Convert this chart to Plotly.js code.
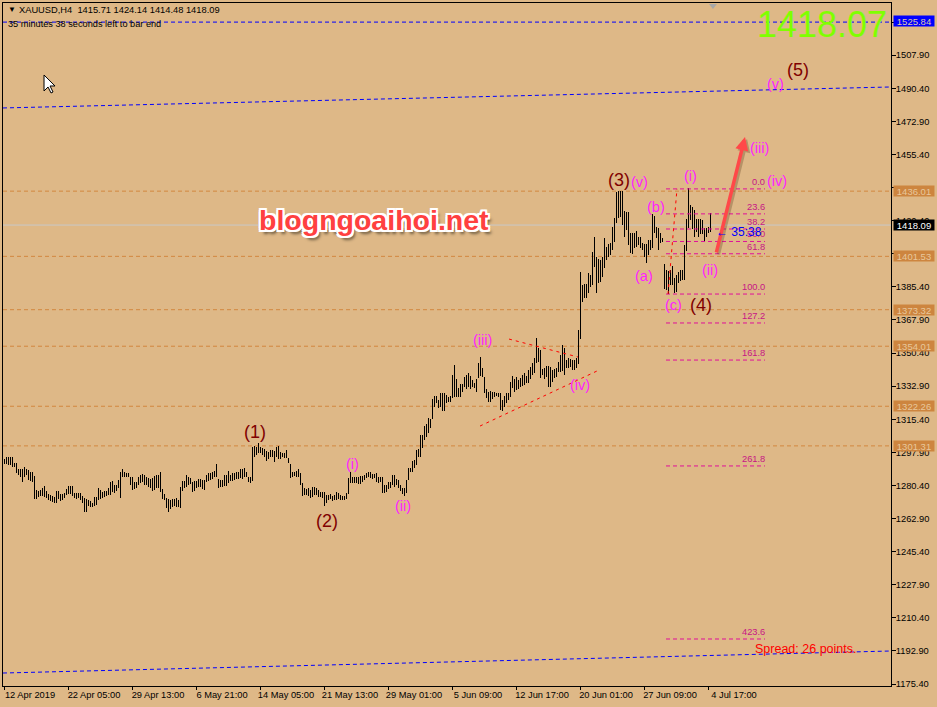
<!DOCTYPE html>
<html>
<head>
<meta charset="utf-8">
<script src="https://cdn.plot.ly/plotly-3.0.1.min.js"></script>
<style>html,body{margin:0;padding:0;background:#DEB887;overflow:hidden}#chart{width:937px;height:707px}</style>
</head>
<body>
<div id="chart"></div>
<script>
const highs = [
1294.2,1295.3,1295.6,1295.6,1295.6,1292.4,1292.4,1289.3,1288.9,1288.9,1290.3,1288.9,1288.6,1287.7,1287.7,1285.4,1278.0,1277.6,1278.0,1278.9,
1280.1,1277.6,1275.9,1275.3,1274.8,1274.1,1277.6,1277.6,1275.9,1275.9,1276.6,1278.3,1280.1,1280.1,1280.1,1276.6,1276.6,1276.2,1276.6,1274.8,
1273.6,1273.0,1272.7,1272.3,1271.3,1274.1,1274.1,1278.9,1278.0,1277.1,1277.6,1277.6,1278.9,1282.4,1282.7,1280.6,1280.6,1283.3,1287.7,1288.9,
1287.7,1287.1,1287.1,1285.0,1284.7,1282.4,1282.4,1284.7,1285.9,1286.4,1285.9,1284.7,1284.1,1283.6,1284.1,1285.4,1285.9,1285.9,1287.7,1278.3,
1275.9,1273.6,1273.0,1272.7,1273.0,1273.0,1273.6,1272.7,1279.7,1282.9,1282.9,1285.9,1284.7,1284.1,1282.4,1282.9,1282.9,1283.6,1283.6,1283.3,
1283.3,1285.9,1286.8,1286.8,1287.7,1288.2,1291.7,1283.6,1283.3,1283.3,1285.9,1285.9,1288.2,1285.9,1286.8,1286.8,1287.7,1287.7,1288.9,1288.9,
1289.4,1287.7,1284.7,1284.7,1300.9,1301.2,1300.9,1303.0,1300.5,1300.0,1299.5,1298.8,1298.3,1299.1,1299.1,1298.8,1300.5,1301.2,1298.3,1297.4,
1297.4,1299.1,1294.7,1291.7,1287.7,1287.7,1288.2,1288.9,1286.8,1281.5,1278.9,1278.3,1278.9,1278.0,1279.4,1279.7,1279.2,1278.0,1277.1,1277.1,
1277.1,1275.3,1275.3,1275.9,1274.8,1275.3,1277.1,1276.6,1275.3,1274.8,1274.8,1276.6,1284.1,1287.7,1285.0,1285.0,1284.7,1285.0,1285.4,1285.4,
1285.9,1287.1,1287.7,1287.7,1286.4,1286.4,1286.8,1285.0,1284.7,1284.7,1280.6,1280.6,1282.4,1282.4,1285.9,1285.9,1283.6,1283.3,1280.6,1278.9,
1278.9,1283.3,1289.4,1289.4,1293.5,1293.8,1299.1,1299.6,1307.0,1307.0,1311.8,1312.9,1315.9,1315.3,1325.9,1327.7,1327.7,1325.6,1329.4,1329.4,
1329.4,1328.2,1327.3,1327.7,1338.8,1344.1,1336.5,1331.7,1334.0,1334.0,1337.9,1338.8,1339.7,1338.2,1336.1,1334.4,1336.5,1345.3,1348.5,1342.3,
1337.9,1331.2,1330.0,1330.5,1330.0,1330.0,1329.4,1329.4,1329.5,1325.6,1327.7,1329.1,1329.1,1335.3,1338.3,1336.5,1337.6,1336.2,1337.0,1338.8,
1339.7,1338.3,1341.4,1343.2,1345.3,1347.6,1358.2,1352.9,1352.0,1341.8,1342.3,1343.6,1343.6,1343.2,1341.4,1341.8,1342.3,1345.9,1349.4,1354.7,
1352.9,1346.7,1347.6,1347.1,1346.7,1346.7,1347.6,1362.6,1393.4,1386.4,1386.9,1386.9,1392.5,1391.7,1404.0,1411.9,1401.4,1399.9,1399.6,1401.0,
1411.0,1406.3,1408.1,1408.8,1416.9,1421.6,1435.7,1436.3,1436.3,1436.3,1425.7,1425.2,1425.2,1414.1,1414.1,1413.7,1415.1,1411.6,1411.6,1408.8,
1408.1,1408.1,1410.2,1410.2,1423.9,1422.9,1417.2,1416.3,1413.7,1411.1,1397.5,1394.4,1394.0,1394.4,1396.5,1389.9,1391.7,1393.5,1394.4,1394.4,
1407.6,1421.2,1437.5,1428.7,1427.5,1426.1,1421.2,1421.2,1421.2,1420.8,1416.4,1416.4,1417.3,1424.3];
const lows = [
1291.7,1291.7,1291.2,1291.2,1290.3,1290.0,1286.8,1285.9,1284.7,1282.4,1284.7,1285.9,1283.3,1282.9,1282.4,1273.0,1273.0,1274.5,1274.8,1274.8,
1274.1,1273.6,1272.7,1272.3,1271.8,1271.3,1271.3,1273.0,1272.3,1272.7,1273.6,1275.3,1275.9,1275.9,1274.8,1273.6,1273.0,1273.6,1272.7,1271.3,
1266.5,1266.5,1269.5,1269.2,1268.8,1269.5,1270.0,1272.7,1273.0,1273.6,1274.1,1274.8,1275.3,1275.3,1277.1,1276.6,1277.6,1278.9,1273.6,1285.0,
1284.7,1285.0,1284.7,1280.6,1278.0,1278.3,1278.9,1280.6,1281.5,1282.4,1280.6,1280.6,1279.7,1278.9,1277.6,1278.0,1278.9,1278.9,1277.1,1273.0,
1272.7,1268.3,1266.5,1267.8,1268.8,1269.5,1268.8,1268.8,1268.3,1277.6,1278.9,1279.7,1280.6,1281.2,1277.1,1277.6,1278.9,1279.7,1279.4,1278.3,
1278.0,1282.4,1282.9,1283.3,1283.6,1284.7,1285.0,1278.9,1279.7,1279.7,1280.1,1280.1,1281.9,1282.9,1282.9,1283.3,1283.6,1283.6,1284.1,1283.6,
1284.7,1284.7,1282.4,1281.5,1282.9,1295.6,1296.5,1297.4,1297.4,1296.5,1295.6,1293.5,1294.2,1295.3,1295.3,1293.0,1295.6,1294.2,1294.2,1295.3,
1294.7,1294.7,1292.1,1284.1,1284.7,1285.4,1285.0,1285.0,1280.6,1274.8,1275.3,1275.3,1274.8,1273.6,1274.5,1275.3,1275.3,1274.1,1274.5,1273.6,
1269.5,1270.9,1272.7,1273.0,1272.3,1272.7,1272.7,1273.0,1272.7,1272.7,1272.7,1273.0,1275.9,1281.9,1281.9,1281.5,1281.5,1281.2,1281.2,1282.4,
1283.3,1284.1,1285.0,1284.1,1283.6,1284.1,1282.4,1281.9,1282.4,1276.6,1276.2,1277.1,1278.3,1278.9,1280.6,1279.7,1280.6,1278.9,1277.6,1275.9,
1274.8,1276.6,1283.2,1287.6,1287.6,1289.4,1291.2,1295.2,1295.6,1300.0,1304.4,1305.8,1307.9,1310.6,1315.3,1322.0,1323.8,1321.1,1322.0,1319.9,
1319.9,1323.8,1324.7,1324.7,1326.4,1327.0,1327.3,1327.0,1327.3,1330.0,1332.3,1331.2,1332.3,1331.2,1332.3,1331.7,1330.0,1337.0,1338.2,1337.9,
1329.1,1326.4,1324.7,1324.7,1325.9,1327.0,1327.7,1327.3,1320.3,1319.9,1322.0,1323.8,1325.6,1327.3,1331.7,1330.0,1330.9,1331.2,1332.6,1333.0,
1333.5,1334.4,1334.7,1336.5,1338.8,1339.7,1345.3,1345.9,1337.0,1338.8,1336.5,1337.9,1332.3,1332.6,1335.3,1337.0,1337.9,1340.6,1340.6,1341.1,
1338.8,1342.3,1342.3,1343.2,1341.4,1341.4,1342.3,1344.6,1357.7,1377.6,1379.3,1379.3,1382.0,1385.5,1386.4,1396.1,1382.3,1387.3,1388.1,1390.8,
1395.2,1399.6,1401.0,1402.2,1404.9,1409.3,1419.3,1421.6,1422.5,1418.1,1411.9,1415.5,1407.5,1403.1,1402.8,1405.8,1406.3,1407.5,1405.8,1404.9,
1401.0,1398.2,1402.2,1404.9,1405.8,1413.7,1411.1,1404.9,1408.4,1409.3,1384.1,1383.8,1381.7,1386.4,1386.4,1382.4,1382.9,1387.7,1388.7,1389.1,
1389.1,1404.6,1416.4,1420.8,1415.9,1411.6,1414.6,1412.0,1413.4,1413.4,1409.3,1412.0,1413.7,1414.6];

const xTickIndex = [0,32,64,96,128,160,192,224,256,288,320,352];
const xTickText = ['12 Apr 2019','22 Apr 05:00','29 Apr 13:00','6 May 21:00','14 May 05:00','21 May 13:00','29 May 01:00','5 Jun 09:00','12 Jun 17:00','20 Jun 01:00','27 Jun 09:00','4 Jul 17:00'];
const yTicks = [1175.4,1192.9,1210.4,1227.9,1245.4,1262.9,1280.4,1297.9,1315.4,1332.9,1350.4,1367.9,1385.4,1402.9,1420.4,1437.9,1455.4,1472.9,1490.4,1507.9,1525.4];
const yTickText = ['1175.40','1192.90','1210.40','1227.90','1245.40','1262.90','1280.40','1297.90','1315.40','1332.90','1350.40','1367.90','1385.40','','1420.40','','1455.40','1472.90','1490.40','1507.90',''];

const orangeLevels = [1436.01,1401.53,1373.32,1354.01,1322.26,1301.31];
const blueLevel = 1525.84;
const blueLineDrawn = 1525.4;
const bidLevel = 1418.09;
const channelUpper = [1480.0,1491.1];
const channelLower = [1181.2,1192.85];
const channelIdx = [-0.5,443.5];

const fibNames = ['0.0','23.6','38.2','50.0','61.8','100.0','127.2','161.8','261.8','423.6'];
const fibPrices = [1437.2,1424.0,1416.0,1409.4,1402.9,1381.6,1366.3,1346.7,1290.7,1199.2];
const fibIdx = [331,380.5];

const waveNames = ['(1)','(2)','(3)','(4)','(5)'];
const waveIdx = [125.5,161.5,307.5,348.5,397];
const wavePrice = [1308.7,1261.6,1441.9,1375.8,1500.1];
const subNames = ['(i)','(ii)','(iii)','(iv)','(v)','(a)','(b)','(c)','(i)','(ii)','(iii)','(iv)','(v)'];
const subIdx = [174,199.5,239,288,317.5,320,326,334.5,343,353,377.5,386.5,385.5];
const subPrice = [1291.7,1269.5,1357.3,1333.5,1440.9,1391.2,1427.6,1375.8,1444,1394.3,1458.8,1441.4,1492.7];

const redLines = [
  {x:[252.5,287],y:[1357.8,1348.3]},
  {x:[238,296.5],y:[1311.8,1340.9]},
  {x:[332,336.5],y:[1381.6,1437.2]}
];

const FONT = '"Liberation Sans", Arial, sans-serif';
const BG = '#DEB887';
const bars = {
  type:'bar',
  x: highs.map((_,i)=>i),
  y: highs.map((h,i)=>h-lows[i]),
  base: lows,
  width: 0.5,
  marker:{color:'#000000',line:{width:0}},
  hoverinfo:'skip',
  showlegend:false
};

const shapes = [];
const hline = (y,color,dash,layer,w)=>({type:'line',xref:'paper',x0:0,x1:1,yref:'y',y0:y,y1:y,layer:layer||'below',line:{color:color,width:w||1,dash:dash}});
shapes.push(hline(bidLevel,'#C8C8C8','solid'));
orangeLevels.forEach(v=>shapes.push(hline(v,'#D2873F','4px,3px')));
shapes.push(hline(blueLineDrawn,'#0000FF','4px,3px'));
shapes.push({type:'line',xref:'x',yref:'y',x0:channelIdx[0],x1:channelIdx[1],y0:channelUpper[0],y1:channelUpper[1],layer:'below',line:{color:'#0000FF',width:1,dash:'4px,3px'}});
shapes.push({type:'line',xref:'x',yref:'y',x0:channelIdx[0],x1:channelIdx[1],y0:channelLower[0],y1:channelLower[1],layer:'below',line:{color:'#0000FF',width:1,dash:'4px,3px'}});
fibPrices.forEach(v=>shapes.push({type:'line',xref:'x',yref:'y',x0:fibIdx[0],x1:fibIdx[1],y0:v,y1:v,layer:'above',line:{color:'#E0109A',width:1,dash:'4px,3px'}}));
redLines.forEach(l=>shapes.push({type:'line',xref:'x',yref:'y',x0:l.x[0],x1:l.x[1],y0:l.y[0],y1:l.y[1],layer:'above',line:{color:'#FF0000',width:1,dash:'3px,4px'}}));
// mouse pointer and chart-shift marker
shapes.push({type:'path',xref:'paper',yref:'paper',xsizemode:'pixel',ysizemode:'pixel',xanchor:0.0462,yanchor:0.8946,
  path:'M0 0 L0 -16 L4 -12 L7 -18 L9 -17 L6 -11 L11 -11 Z',fillcolor:'#FFFFFF',line:{color:'#000000',width:1},layer:'above'});
shapes.push({type:'path',xref:'paper',yref:'paper',xsizemode:'pixel',ysizemode:'pixel',xanchor:0.7995,yanchor:0.9985,
  path:'M-4 0 L4 0 L0 -5 Z',fillcolor:'#A8A8A8',line:{width:0},layer:'above'});

const ann = [];
const tag = (v,bg,fg)=>ann.push({xref:'paper',yref:'y',x:1,y:v,xanchor:'left',yanchor:'middle',xshift:2,text:v.toFixed(2),showarrow:false,
  bgcolor:bg,width:40,height:10,borderpad:0,font:{family:FONT,size:9.5,color:fg},align:'center'});
orangeLevels.forEach(v=>tag(v,'#CD853F','#E8C79C'));
tag(blueLevel,'#0000FF','#DEC8A8');
tag(bidLevel,'#000000','#FFFFFF');

fibNames.forEach((t,i)=>ann.push({xref:'x',yref:'y',x:fibIdx[1],y:fibPrices[i],xanchor:'right',yanchor:'bottom',xshift:2,text:t,showarrow:false,font:{family:FONT,size:9.3,color:'#C71585'}}));
waveNames.forEach((t,i)=>ann.push({xref:'x',yref:'y',x:waveIdx[i],y:wavePrice[i],text:t,showarrow:false,font:{family:FONT,size:18,color:'#800000'}}));
subNames.forEach((t,i)=>ann.push({xref:'x',yref:'y',x:subIdx[i],y:subPrice[i],text:t,showarrow:false,font:{family:FONT,size:14.5,color:'#FF22FF'}}));

// big arrow with its soft shadow
ann.push({xref:'x',yref:'y',axref:'x',ayref:'y',x:371.5,y:1463.6,ax:357,ay:1401.8,text:'',showarrow:true,arrowhead:2,arrowsize:0.75,arrowwidth:3.5,arrowcolor:'rgba(90,60,30,0.3)'});
ann.push({xref:'x',yref:'y',axref:'x',ayref:'y',x:370.5,y:1464.6,ax:356,ay:1402.8,text:'',showarrow:true,arrowhead:2,arrowsize:0.75,arrowwidth:3.5,arrowcolor:'#FF4848'});

ann.push({xref:'x',yref:'y',x:185,y:1420.8,text:'blogngoaihoi.net',showarrow:false,
  font:{family:FONT,size:28.5,weight:700,color:'#FF4040',
  shadow:'2px 0 0 #fff,-2px 0 0 #fff,0 2px 0 #fff,0 -2px 0 #fff,2px 2px 0 #fff,-2px 2px 0 #fff,2px -2px 0 #fff,-2px -2px 0 #fff,3px 4px 3px #6b5a40'}});
ann.push({xref:'x',yref:'y',x:409,y:1523.9,text:'1418.07',showarrow:false,font:{family:FONT,size:36,color:'#7FFF00'}});
ann.push({xref:'x',yref:'y',x:374.5,y:1193.7,xanchor:'left',text:'Spread: 26 points.',showarrow:false,font:{family:FONT,size:12.5,color:'#FF0000'}});
ann.push({xref:'x',yref:'y',x:355,y:1414.2,xanchor:'left',text:'← 35:38',showarrow:false,font:{family:FONT,size:12,color:'#0000FF'}});
ann.push({xref:'paper',yref:'paper',x:0.016,y:0.9898,xanchor:'left',yanchor:'middle',text:'XAUUSD,H4  1415.71 1424.14 1414.48 1418.09',showarrow:false,font:{family:FONT,size:9.3,color:'#000000'}});
ann.push({xref:'paper',yref:'paper',x:0.003,y:0.9693,xanchor:'left',yanchor:'middle',text:'35 minutes 38 seconds left to bar end',showarrow:false,font:{family:FONT,size:9.2,color:'#000000'}});
ann.push({xref:'paper',yref:'paper',x:0.0035,y:0.9898,xanchor:'left',yanchor:'middle',text:'▼',showarrow:false,font:{family:FONT,size:8,color:'#000000'}});

const layout = {
  width:937,height:707,
  paper_bgcolor:BG,plot_bgcolor:BG,
  margin:{l:3,r:46,t:3,b:21,pad:0},
  showlegend:false,
  bargap:0,
  font:{family:FONT,size:9.3,color:'#000000'},
  xaxis:{range:[-0.5,443.5],tickmode:'array',tickvals:xTickIndex,ticktext:xTickText,ticks:'outside',ticklen:3,tickcolor:'#000',tickwidth:1,
    ticklabelshift:26,ticklabelstandoff:-3,tickangle:0,showgrid:false,zeroline:false,showline:true,linecolor:'#000',linewidth:1,mirror:true,tickfont:{family:FONT,size:9.3,color:'#000'},fixedrange:true},
  yaxis:{range:[1174.34,1535.5],side:'right',tickmode:'array',tickvals:yTicks,ticktext:yTickText,ticks:'outside',ticklen:4,tickcolor:'#000',tickwidth:1,
    ticklabelstandoff:-2,showgrid:false,zeroline:false,showline:true,linecolor:'#000',linewidth:1,mirror:true,tickfont:{family:FONT,size:9.3,color:'#000'},fixedrange:true},
  shapes:shapes,
  annotations:ann
};
Plotly.newPlot('chart',[bars],layout,{displayModeBar:false,staticPlot:true});
</script>
</body>
</html>
